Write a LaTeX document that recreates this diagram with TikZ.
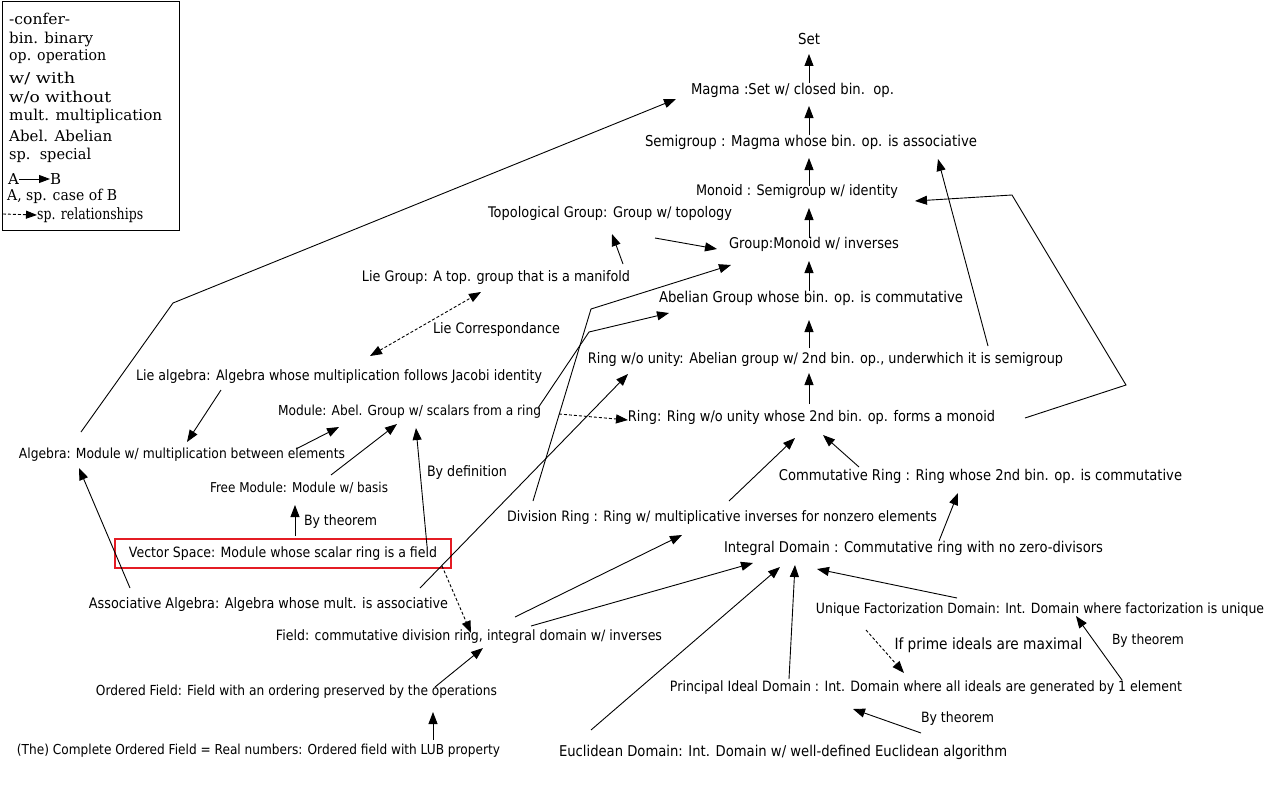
\documentclass[tikz,border=0pt]{standalone}
\usepackage{fontspec}
\setmainfont{DejaVu Sans}
\newfontfamily\legfont{DejaVu Serif}
\usetikzlibrary{arrows.meta}
\definecolor{vsred}{RGB}{228,28,36}
\newcommand{\fw}[2]{\scalebox{1}[1.13]{\resizebox{#1pt}{!}{#2}}}
\newcommand{\fh}[2]{\resizebox{#1pt}{\height}{#2}}
\begin{document}
\begin{tikzpicture}[x=1pt,y=-1pt,
  lbl/.style={inner sep=0pt, font=\fontsize{11}{13}\selectfont},
  leg/.style={inner sep=0pt, anchor=west, font=\legfont\fontsize{15}{17}\selectfont},
  arr/.style={line width=0.9pt, -{Triangle[length=12pt,width=9pt]}},
  darr/.style={arr, dash pattern=on 3pt off 2pt},
  ln/.style={line width=0.9pt}]
\useasboundingbox (0,0) rectangle (1280,800);
% legend
\node[draw, line width=0.8pt, minimum width=177pt, minimum height=229pt, anchor=north west, inner sep=0pt] (legend) at (2,1) {};
\node[leg] (l1) at (9,19) {\fh{61}{-confer-}};
\node[leg] (l2) at (9,39) {\fh{84}{bin. binary}};
\node[leg] (l3) at (9,57) {\fh{97}{op. operation}};
\node[leg] (l4) at (9,78) {\fh{66}{w/ with}};
\node[leg] (l5) at (9,97) {\fh{102}{w/o without}};
\node[leg] (l6) at (9,116) {\fh{153}{mult. multiplication}};
\node[leg] (l7) at (9,136) {\fh{103}{Abel. Abelian}};
\node[leg] (l8) at (9,155) {\fh{82}{sp.\ \ special}};
\node[leg] (la) at (8,179) {A};
\node[leg] (lb) at (50,179) {B};
\node[leg] (l9) at (7,196) {\fh{110}{A, sp. case of B}};
\node[leg, font=\legfont\fontsize{11}{13}\selectfont] (l10) at (37,215) {\scalebox{1}[1.1]{\fw{106}{sp. relationships}}};
\coordinate (ld0) at (3,214);
\draw[arr, -{Triangle[length=11pt,width=8pt]}] (la) -- (lb);
\draw[darr, -{Triangle[length=11pt,width=8pt]}] (ld0) -- (l10.west);
% nodes
\node[lbl] (set) at (809,39) {\fw{22}{Set}};
\node[lbl] (magma) at (792.5,90) {\fw{203}{Magma :Set w/ closed bin.\ \ op.}};
\node[lbl] (semi) at (811,142) {\fw{332}{Semigroup : Magma whose bin. op. is associative}};
\node[lbl] (monoid) at (797,191) {\fw{202}{Monoid : Semigroup w/ identity}};
\node[lbl] (topo) at (610,213) {\fw{244}{Topological Group: Group w/ topology}};
\node[lbl] (group) at (814,244) {\fw{170}{Group:Monoid w/ inverses}};
\node[lbl] (liegroup) at (496,278) {\fw{268}{Lie Group: A top. group that is a manifold}};
\node[lbl] (abelian) at (811,298) {\fw{304}{Abelian Group whose bin. op. is commutative}};
\node[lbl] (liecorr) at (496.5,330) {\fw{127}{Lie Correspondance}};
\node[lbl] (ringwo) at (825.5,359) {\fw{475}{Ring w/o unity: Abelian group w/ 2nd bin. op., underwhich it is semigroup}};
\node[lbl] (liealg) at (339,377) {\fw{406}{Lie algebra: Algebra whose multiplication follows Jacobi identity}};
\node[lbl] (module) at (409.5,412) {\fw{263}{Module: Abel. Group w/ scalars from a ring}};
\node[lbl] (ring) at (811.5,417) {\fw{367}{Ring: Ring w/o unity whose 2nd bin. op. forms a monoid}};
\node[lbl] (algebra) at (182,455) {\fw{326}{Algebra: Module w/ multiplication between elements}};
\node[lbl] (bydef) at (467,473) {\fw{80}{By definition}};
\node[lbl] (commring) at (980.5,476) {\fw{403}{Commutative Ring : Ring whose 2nd bin. op. is commutative}};
\node[lbl] (freemod) at (299,488) {\fw{178}{Free Module: Module w/ basis}};
\node[lbl] (divring) at (722,518) {\fw{430}{Division Ring : Ring w/ multiplicative inverses for nonzero elements}};
\node[lbl] (bythma) at (340.5,522) {\fw{73}{By theorem}};
\node[lbl] (intdom) at (913.5,548) {\fw{379}{Integral Domain : Commutative ring with no zero-divisors}};
\node[lbl, draw=vsred, line width=2.6pt, minimum width=336pt, minimum height=29pt] (vs) at (283,553.5) {\fw{308}{Vector Space: Module whose scalar ring is a field}};
\node[lbl] (assoc) at (268.5,605) {\fw{359}{Associative Algebra: Algebra whose mult. is associative}};
\node[lbl] (ufd) at (1040,610) {\fw{448}{Unique Factorization Domain: Int. Domain where factorization is unique}};
\node[lbl] (field) at (469,637) {\fw{386}{Field: commutative division ring, integral domain w/ inverses}};
\node[lbl] (ifprime) at (988.5,645) {\fw{188}{If prime ideals are maximal}};
\node[lbl] (bythmb) at (1148,641) {\fw{72}{By theorem}};
\node[lbl] (pid) at (926,688) {\fw{512}{Principal Ideal Domain : Int. Domain where all ideals are generated by 1 element}};
\node[lbl] (ordfield) at (296.5,692) {\fw{401}{Ordered Field: Field with an ordering preserved by the operations}};
\node[lbl] (bythmc) at (957.5,719) {\fw{73}{By theorem}};
\node[lbl] (complete) at (258.5,751) {\fw{483}{(The) Complete Ordered Field = Real numbers: Ordered field with LUB property}};
\node[lbl] (eucl) at (783,752) {\fw{448}{Euclidean Domain: Int. Domain w/ well-defined Euclidean algorithm}};
% connector end points
\coordinate (magma-o) at (809,83); \coordinate (set-i) at (809,54);
\coordinate (semi-o) at (809,135); \coordinate (magma-i) at (809,106);
\coordinate (monoid-o) at (809,186); \coordinate (semi-i) at (809,158);
\coordinate (group-o) at (809,238); \coordinate (monoid-i) at (809,208);
\coordinate (abelian-o) at (809,291); \coordinate (group-i) at (809,261);
\coordinate (ringwo-o) at (809,348); \coordinate (abelian-i) at (809,320);
\coordinate (ring-o) at (809,404); \coordinate (ringwo-i) at (809,373);
\coordinate (algebra-o) at (81,432); \coordinate (bendA) at (173,303); \coordinate (magma-ia) at (676,99);
\coordinate (ring-oa) at (1025,418); \coordinate (bendB) at (1126,385); \coordinate (bendC) at (1012,195); \coordinate (monoid-ia) at (915,201);
\coordinate (ringwo-oa) at (988,346); \coordinate (semi-ia) at (938,159);
\coordinate (topo-o) at (655,238); \coordinate (group-ia) at (717,249);
\coordinate (liegroup-o) at (623,264); \coordinate (topo-i) at (612,234);
\coordinate (liealg-d) at (370,356); \coordinate (liegroup-d) at (481,292);
\coordinate (liealg-o) at (221,390); \coordinate (algebra-i) at (187,442);
\coordinate (algebra-oa) at (296,449); \coordinate (module-i) at (339,427);
\coordinate (freemod-o) at (331,475); \coordinate (module-ia) at (397,424);
\coordinate (vs-o) at (427,546); \coordinate (module-ib) at (416,428);
\coordinate (vs-ob) at (295,536); \coordinate (freemod-i) at (295,505);
\coordinate (module-o) at (538,408); \coordinate (bendD) at (589,332); \coordinate (abelian-ia) at (669,313);
\coordinate (divring-o) at (533,501); \coordinate (bendE) at (591,309); \coordinate (group-ib) at (731,265);
\coordinate (assoc-o) at (420,588); \coordinate (ringwo-ia) at (628,374);
\coordinate (module-od) at (559,414); \coordinate (ring-i) at (628,420);
\coordinate (divring-ob) at (729,501); \coordinate (ring-ia) at (795,438);
\coordinate (commring-o) at (859,467); \coordinate (ring-ib) at (823,435);
\coordinate (intdom-o) at (939,541); \coordinate (commring-i) at (958,493);
\coordinate (vs-od) at (442,566); \coordinate (field-i) at (471,633);
\coordinate (ordfield-o) at (435,687); \coordinate (field-ia) at (483,648);
\coordinate (complete-o) at (433,740); \coordinate (ordfield-i) at (433,712);
\coordinate (field-o) at (515,617); \coordinate (divring-i) at (682,535);
\coordinate (field-ob) at (531,626); \coordinate (intdom-i) at (753,563);
\coordinate (eucl-o) at (591,730); \coordinate (intdom-ia) at (780,567);
\coordinate (pid-o) at (789,679); \coordinate (intdom-ib) at (795,565);
\coordinate (ufd-o) at (957,598); \coordinate (intdom-ic) at (817,569);
\coordinate (ufd-od) at (866,630); \coordinate (pid-i) at (904,673);
\coordinate (pid-ob) at (1122,680); \coordinate (ufd-i) at (1076,616);
\coordinate (eucl-ob) at (921,733); \coordinate (pid-ia) at (853,709);
\coordinate (assoc-oa) at (130,588); \coordinate (algebra-ia) at (79,468);
% connectors
\draw[arr] (magma-o) -- (set-i);
\draw[arr] (semi-o) -- (magma-i);
\draw[arr] (monoid-o) -- (semi-i);
\draw[arr] (group-o) -- (monoid-i);
\draw[arr] (abelian-o) -- (group-i);
\draw[arr] (ringwo-o) -- (abelian-i);
\draw[arr] (ring-o) -- (ringwo-i);
\draw[arr] (algebra-o) -- (bendA) -- (magma-ia);
\draw[arr] (ring-oa) -- (bendB) -- (bendC) -- (monoid-ia);
\draw[arr] (ringwo-oa) -- (semi-ia);
\draw[arr] (topo-o) -- (group-ia);
\draw[arr] (liegroup-o) -- (topo-i);
\draw[darr, {Triangle[length=12pt,width=9pt]}-{Triangle[length=12pt,width=9pt]}] (liealg-d) -- (liegroup-d);
\draw[arr] (liealg-o) -- (algebra-i);
\draw[arr] (algebra-oa) -- (module-i);
\draw[arr] (freemod-o) -- (module-ia);
\draw[arr] (vs-o) -- (module-ib);
\draw[arr] (vs-ob) -- (freemod-i);
\draw[arr] (module-o) -- (bendD) -- (abelian-ia);
\draw[arr] (divring-o) -- (bendE) -- (group-ib);
\draw[arr] (assoc-o) -- (ringwo-ia);
\draw[darr] (module-od) -- (ring-i);
\draw[arr] (divring-ob) -- (ring-ia);
\draw[arr] (commring-o) -- (ring-ib);
\draw[arr] (intdom-o) -- (commring-i);
\draw[darr] (vs-od) -- (field-i);
\draw[arr] (ordfield-o) -- (field-ia);
\draw[arr] (complete-o) -- (ordfield-i);
\draw[arr] (field-o) -- (divring-i);
\draw[arr] (field-ob) -- (intdom-i);
\draw[arr] (eucl-o) -- (intdom-ia);
\draw[arr] (pid-o) -- (intdom-ib);
\draw[arr] (ufd-o) -- (intdom-ic);
\draw[darr] (ufd-od) -- (pid-i);
\draw[arr] (pid-ob) -- (ufd-i);
\draw[arr] (eucl-ob) -- (pid-ia);
\draw[arr] (assoc-oa) -- (algebra-ia);
\end{tikzpicture}
\end{document}
